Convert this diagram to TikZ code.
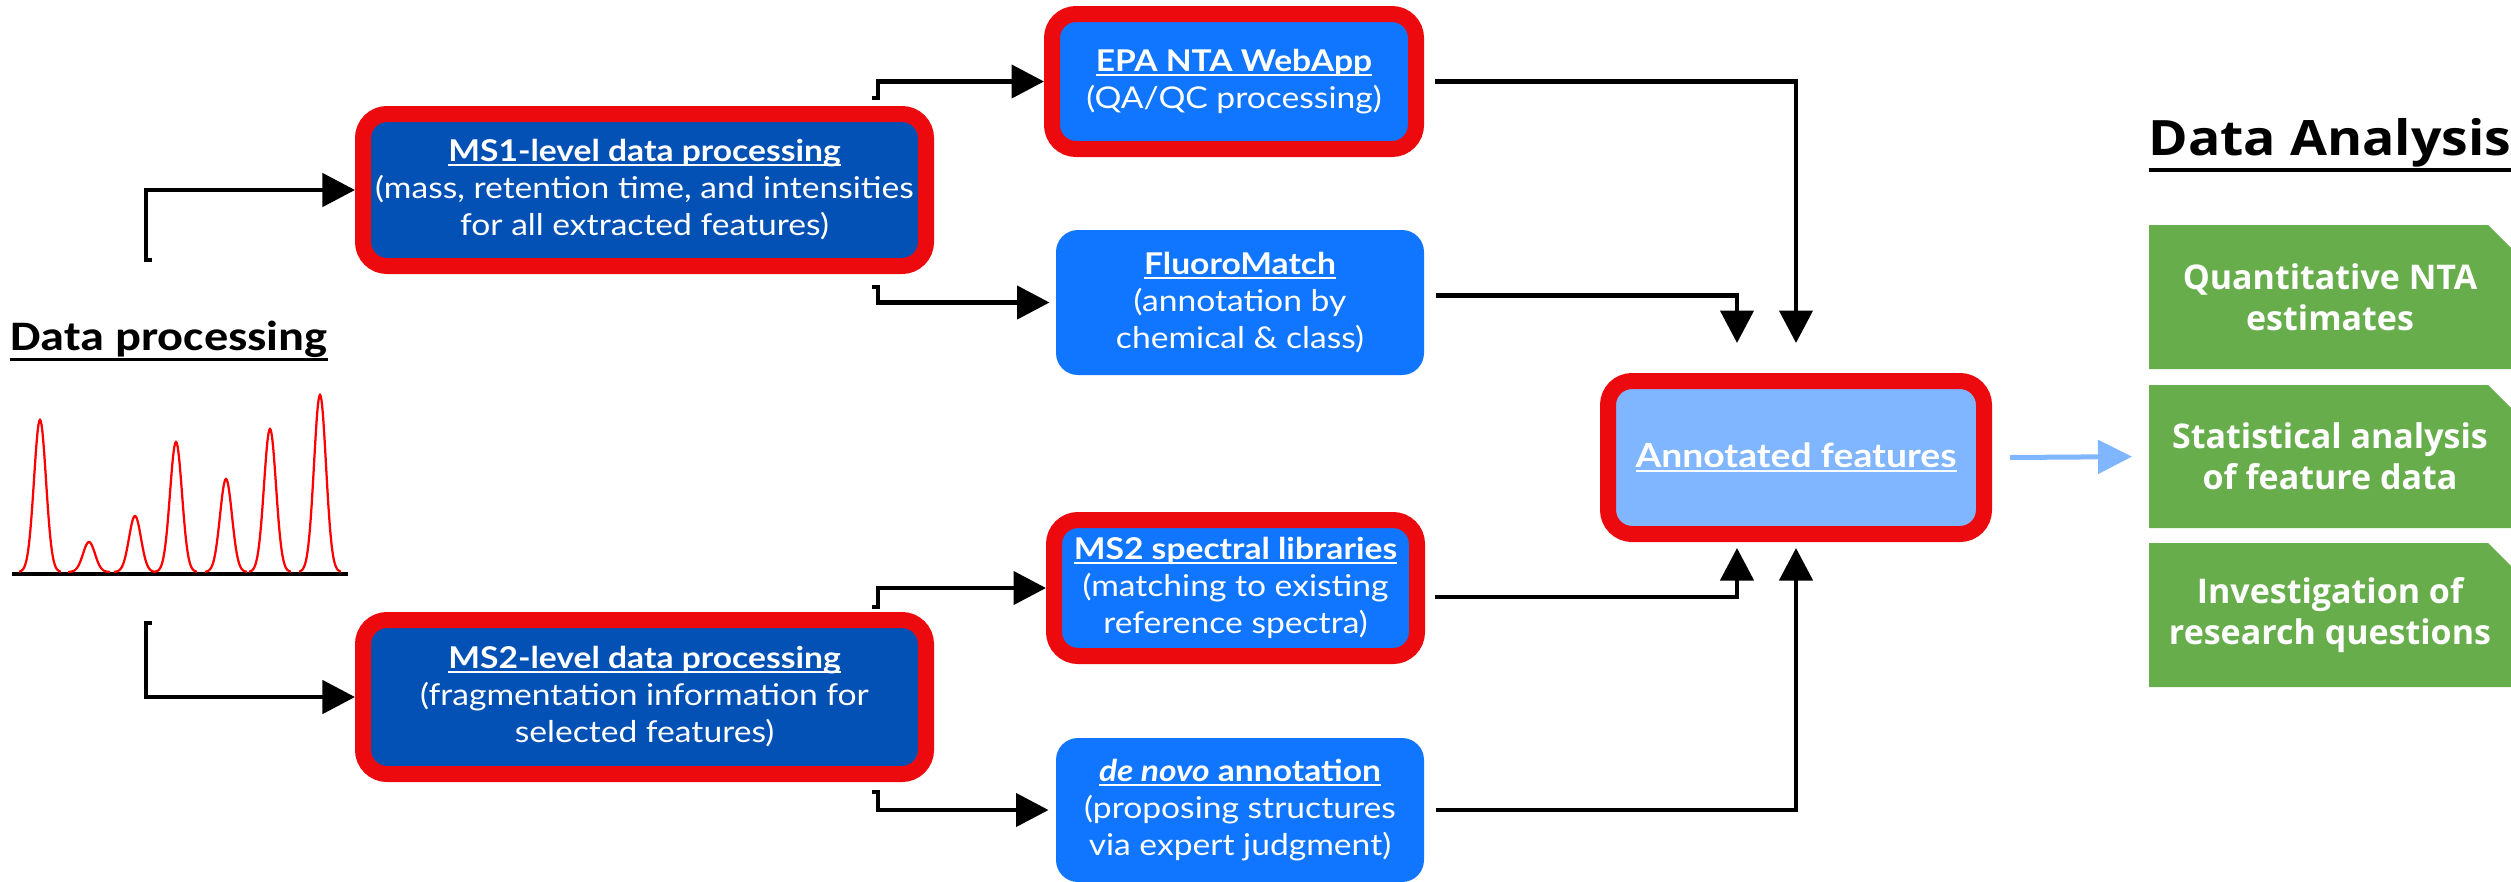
\documentclass[tikz,border=0pt]{standalone}
\usepackage{fontspec}
\usetikzlibrary{arrows.meta,calc,backgrounds}

% type faces
\newfontfamily\boxfont[FakeStretch=1.12]{Lato}
\newfontfamily\hdfont[FakeStretch=1.15]{Carlito}
\newfontfamily\grfont{Open Sans}
\newfontfamily\dafont[FakeStretch=1.1]{Open Sans}

% palette
\definecolor{redc}{RGB}{237,10,14}
\definecolor{dkblue}{RGB}{4,81,181}
\definecolor{brblue}{RGB}{16,117,255}
\definecolor{ltblue}{RGB}{128,181,255}
\definecolor{grn}{RGB}{103,173,76}

% underline: #1 raise, #2 thickness, #3 text
\newsavebox\ulbox
\newcommand\undl[3]{\sbox\ulbox{#3}\rlap{\rule[#1]{\wd\ulbox}{#2}}\usebox\ulbox}
\newcommand\ttl[1]{{\bfseries\undl{-1.8pt}{0.8pt}{#1}}}

\begin{document}
\begin{tikzpicture}[
  x=0.4pt, y=-0.4pt,
  boxtxt/.style={text=white, align=center, inner sep=0pt,
    font=\boxfont\fontsize{12}{14.8}\selectfont},
  redbox/.style={boxtxt, draw=redc, line width=6.4pt, rounded corners=9.6pt},
  plainbox/.style={boxtxt, rounded corners=8.8pt},
  greenbox/.style={text=white, align=center, inner sep=0pt, outer sep=0pt,
    minimum width=144.8pt, font=\grfont\bfseries\fontsize{13.6}{16.4}\selectfont},
  conn/.style={line width=1.8pt, -{Triangle[length=13pt,width=13.2pt]}},
  lconn/.style={draw=ltblue, line width=2pt, -{Triangle[length=13.6pt,width=13.2pt]}},
  peak/.style={draw=red, line width=0.9pt},
]
\useasboundingbox (0,0) rectangle (2511,881);

% headings
\node[anchor=base west, inner sep=0pt, font=\hdfont\bfseries\fontsize{16.8}{20}\selectfont]
  (DP) at (10,350) {\undl{-4.2pt}{1.2pt}{Data processing}};
\node[anchor=base west, inner sep=0pt, font=\dafont\bfseries\fontsize{19.5}{23}\selectfont]
  (DA) at (2148,155) {\undl{-6.7pt}{1.4pt}{Data Analysis}};

% chromatogram
\draw[line width=1.6pt] (12,574) -- (348,574);
\foreach \c/\h in {40/152, 89/30, 135/56, 176/130, 226/93, 270/143, 320/177}
  \draw[peak] plot[domain=-21:21, samples=61, smooth]
    ({\c+\x},{572-\h*exp(-(\x)*(\x)/72)});

% processing steps
\node[redbox, fill=dkblue, minimum width=225.2pt, minimum height=60.8pt] (MS1) at (644.5,190)
  {\ttl{MS1-level data processing}\\(mass, retention time, and intensities\\for all extracted features)};
\node[redbox, fill=dkblue, minimum width=225.2pt, minimum height=61.6pt] (MS2) at (644.5,697)
  {\ttl{MS2-level data processing}\\(fragmentation information for\\selected features)};

% tools
\node[redbox, fill=brblue, minimum width=145.6pt, minimum height=54pt] (EPA) at (1234,81.5)
  {\ttl{EPA NTA WebApp}\\(QA/QC processing)};
\node[plainbox, fill=brblue, minimum width=147.2pt, minimum height=58pt] (FM) at (1240,302.5)
  {\ttl{FluoroMatch}\\(annotation by\\chemical \& class)};
\node[redbox, fill=brblue, minimum width=145.2pt, minimum height=54.4pt] (LIB) at (1235.5,588)
  {\ttl{MS2 spectral libraries}\\(matching to existing\\reference spectra)};
\node[plainbox, fill=brblue, minimum width=147.2pt, minimum height=57.6pt] (DN) at (1240,810)
  {\ttl{\textit{de novo} annotation}\\(proposing structures\\via expert judgment)};

% result
\node[redbox, fill=ltblue, minimum width=150.4pt, minimum height=61.2pt,
  font=\boxfont\bfseries\fontsize{13.3}{16}\selectfont] (ANN) at (1796,457.5)
  {\undl{-1.7pt}{0.6pt}{Annotated features}};

% analysis cards
\node[greenbox, minimum height=57.6pt] (G1) at (2330,297) {Quantitative NTA\\estimates};
\node[greenbox, minimum height=57.2pt] (G2) at (2330,456.5) {Statistical analysis\\of feature data};
\node[greenbox, minimum height=57.6pt] (G3) at (2330,615) {Investigation of\\research questions};
\begin{scope}[on background layer]
  \foreach \g in {G1,G2,G3}
    \fill[grn] (\g.north west) -- ($(\g.north east)+(-23,0)$) -- ($(\g.north east)+(0,23)$)
      -- (\g.south east) -- (\g.south west) -- cycle;
\end{scope}

% connectors from the data block
\coordinate (d1) at (146,260);
\coordinate (d2) at (146,623);
\draw[conn] ($(d1)+(6,0)$) -- (d1) |- (MS1.west);
\draw[conn] ($(d2)+(6,0)$) -- (d2) |- (MS2.west);

% connectors to the tools
\coordinate (s1) at ($(MS1.north east)+(-56,-8)$);
\coordinate (s2) at ($(MS1.south east)+(-56,13)$);
\coordinate (s3) at ($(MS2.north east)+(-56,-5)$);
\coordinate (s4) at ($(MS2.south east)+(-56,10)$);
\draw[conn] ($(s1)+(-6,0)$) -- (s1) |- (EPA.west);
\draw[conn, shorten >=2.4pt] ($(s2)+(-6,0)$) -- (s2) |- (FM.west);
\draw[conn] ($(s3)+(-6,0)$) -- (s3) |- (LIB.west);
\draw[conn, shorten >=2.8pt] ($(s4)+(-6,0)$) -- (s4) |- (DN.west);

% connectors to the annotated features
\draw[conn, shorten >=12pt] ($(EPA.east)+(11,0)$) -| (ANN.north);
\draw[conn, shorten >=12pt] ($(FM.east)+(11,-7)$) -| ($(ANN.north)+(-59,0)$);
\draw[conn, shorten >=2.4pt] ($(LIB.east)+(10,9)$) -| ($(ANN.south)+(-59,0)$);
\draw[conn, shorten >=2.4pt] ($(DN.east)+(11,0)$) -| (ANN.south);

% to data analysis
\draw[lconn, shorten >=6.8pt] ($(ANN.east)+(18,0)$) -- (G2.west);
\end{tikzpicture}
\end{document}
